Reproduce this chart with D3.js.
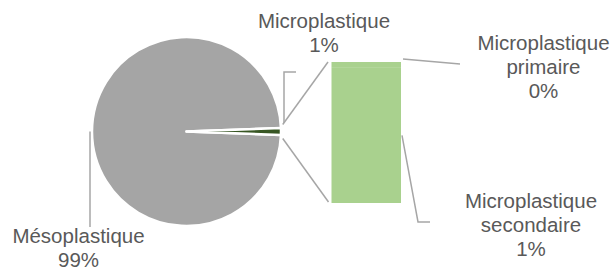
<!DOCTYPE html>
<html>
<head>
<meta charset="utf-8">
<script src="https://cdn.jsdelivr.net/npm/d3@7"></script>
<style>
  body { margin: 0; background: #fff; }
  svg { display: block; }
</style>
</head>
<body>
<script>
//-----------------Data----------------

const pieCategories = ["Mésoplastique", "Microplastique"];
const mesoValue = 98.8;
const barCategories = ["Microplastique primaire", "Microplastique secondaire"];
const barValues = [0.05, 1.15];

//-----------------Layout----------------

const width = 614;
const height = 269;
const cx = 186.5, cy = 131.5, radius = 94.5;
const barLeft = 331.5, barWidth = 69.5, barTop = 62, barBottom = 203;
const fontSize = 20.5, lineHeight = 24;
const textColor = "#595959";
const lineColor = "#a6a6a6";

const microValue = d3.sum(barValues);
const total = mesoValue + microValue;
const pct = (v) => Math.round((v / total) * 100) + "%";

const svg = d3.select("body").append("svg").attr("width", width).attr("height", height)
  .style("font-family", "'Liberation Sans', Arial, sans-serif");

//-----------------Pie----------------

const microAngle = (2 * Math.PI * microValue) / total;
const start = Math.PI / 2 - microAngle / 2;
const pieData = [
  { name: pieCategories[1], value: microValue, color: "#375623" },
  { name: pieCategories[0], value: mesoValue, color: "#a5a5a5" },
];
const pie = d3.pie().sort(null).value((d) => d.value).startAngle(start).endAngle(start + 2 * Math.PI);
const arc = d3.arc().innerRadius(0).outerRadius(radius);
const arcs = pie(pieData);

const pieG = svg.append("g").attr("transform", `translate(${cx},${cy})`);
pieG.selectAll("path")
  .data(arcs.slice().reverse())
  .enter()
  .append("path")
  .attr("d", arc)
  .attr("fill", (d) => d.data.color)
  .attr("stroke", "#fff")
  .attr("stroke-width", 2.5)
  .attr("stroke-linejoin", "round");

//-----------------Bar----------------

const yScale = d3.scaleLinear().domain([0, microValue]).range([barBottom, barTop]);
const stackRow = {};
barCategories.forEach((c, i) => (stackRow[c] = barValues[i]));
const stack = d3.stack().keys(barCategories.slice().reverse())([stackRow]);

svg.append("g").selectAll("rect")
  .data(stack)
  .enter()
  .append("rect")
  .attr("x", barLeft)
  .attr("width", barWidth)
  .attr("y", (s) => yScale(s[0][1]))
  .attr("height", (s) => yScale(s[0][0]) - yScale(s[0][1]))
  .attr("fill", "#a9d18e");

//-----------------Connector lines----------------

const microArc = arcs[0];
const pad = (2 * Math.PI) / 180;
const pt = (a, r) => [cx + r * Math.sin(a), cy - r * Math.cos(a)];
const lines = svg.append("g").attr("stroke", lineColor).attr("stroke-width", 1.5).attr("fill", "none");
const topStart = pt(microArc.startAngle - pad, radius + 2);
const botStart = pt(microArc.endAngle + pad, radius + 2);
lines.append("line").attr("x1", topStart[0]).attr("y1", topStart[1]).attr("x2", barLeft - 3.5).attr("y2", yScale(microValue));
lines.append("line").attr("x1", botStart[0]).attr("y1", botStart[1]).attr("x2", barLeft - 3).attr("y2", yScale(0) - 1);

//-----------------Labels----------------

const labels = [
  { lines: ["Mésoplastique", pct(mesoValue)], x: 78.5, y: 243,
    leader: [[cx - radius - 2, cy], [cx - radius - 2, 227]] },
  { lines: ["Microplastique", pct(microValue)], x: 324, y: 28,
    leader: [[cx + radius + 3, cy - 8.5], [cx + radius + 3, 72], [296, 72]] },
  { lines: ["Microplastique", "primaire", pct(barValues[0])], x: 543.5, y: 50,
    leader: [[barLeft + barWidth + 2, yScale(microValue) - 3], [460, 64]] },
  { lines: ["Microplastique", "secondaire", pct(barValues[1])], x: 531, y: 208,
    leader: [[barLeft + barWidth + 1, yScale(barValues[1] / 2)], [418, 222], [430, 222]] },
];

labels.forEach((l) => {
  lines.append("path").attr("d", d3.line()(l.leader));
  const t = svg.append("text")
    .attr("x", l.x)
    .attr("y", l.y)
    .style("text-anchor", "middle")
    .style("font-size", fontSize + "px")
    .style("fill", textColor);
  l.lines.forEach((s, i) => {
    t.append("tspan").attr("x", l.x).attr("y", l.y + i * lineHeight).text(s);
  });
});
</script>
</body>
</html>
